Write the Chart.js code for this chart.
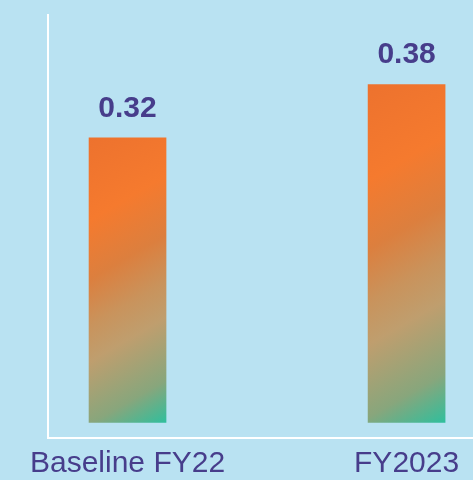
<!DOCTYPE html>
<html>
<head>
<meta charset="utf-8">
<script src="https://cdn.jsdelivr.net/npm/chart.js@4"></script>
<style>
  html, body { margin: 0; padding: 0; background: #b9e2f2; overflow: hidden; }
  #wrap { width: 473px; height: 480px; }
</style>
</head>
<body>
<div id="wrap"><canvas id="fyChart" width="473" height="480"></canvas></div>
<script>
// data
const categories = ['Baseline FY22', 'FY2023'];
const values = [0.32, 0.38];
const valueLabels = ['0.32', '0.38'];

document.addEventListener('DOMContentLoaded', function() {

  const textColor = '#473d8b';
  const barWidth = 77;

  // orange -> tan -> green, per bar, tilted 30deg
  const gradStops = [
    [0, '#ed722e'],
    [0.25, '#f57a2e'],
    [0.43, '#dc7f3e'],
    [0.57, '#c9935c'],
    [0.68, '#bf9e6e'],
    [0.87, '#88a67c'],
    [1, '#2fbf9d']
  ];

  function barGradient(context) {
    const chart = context.chart;
    const { ctx, chartArea, scales } = chart;
    if (!chartArea || context.dataIndex === undefined) return '#f57a2e';
    const i = context.dataIndex;
    const cx = scales.x.getPixelForValue(i);
    const top = scales.y.getPixelForValue(values[i]);
    const bottom = scales.y.getPixelForValue(0);
    const h = bottom - top;
    const a = 30 * Math.PI / 180;
    const dx = Math.sin(a), dy = Math.cos(a);
    const half = (barWidth * dx + h * dy) / 2;
    const cy = (top + bottom) / 2;
    const g = ctx.createLinearGradient(cx - dx * half, cy - dy * half, cx + dx * half, cy + dy * half);
    gradStops.forEach(s => g.addColorStop(s[0], s[1]));
    return g;
  }

  // value text above each bar
  const valueLabelPlugin = {
    id: 'valueLabels',
    afterDatasetsDraw(chart) {
      const ctx = chart.ctx;
      const meta = chart.getDatasetMeta(0);
      ctx.save();
      ctx.fillStyle = textColor;
      ctx.font = 'bold 30px "Liberation Sans", Arial, sans-serif';
      ctx.textAlign = 'center';
      ctx.textBaseline = 'alphabetic';
      meta.data.forEach((bar, i) => {
        ctx.fillText(valueLabels[i], bar.x, bar.y - 21);
      });
      ctx.restore();
    }
  };

  const ctx1 = document.getElementById('fyChart');
  new Chart(ctx1, {
    type: 'bar',
    data: {
      datasets: [{
        data: values.map((v, i) => ({ x: i, y: v })),
        backgroundColor: barGradient,
        borderWidth: 0,
        barThickness: barWidth
      }]
    },
    options: {
      responsive: false,
      animation: false,
      layout: { padding: { left: 48, top: 15, right: 0, bottom: 0 } },
      plugins: {
        legend: { display: false },
        tooltip: { enabled: false }
      },
      scales: {
        x: {
          type: 'linear',
          offset: false,
          min: -0.285,
          max: 1.238,
          afterBuildTicks: scale => { scale.ticks = categories.map((c, i) => ({ value: i })); },
          afterFit: scale => { scale.height = 42; },
          ticks: {
            color: textColor,
            font: { family: '"Liberation Sans", Arial, sans-serif', size: 30 },
            padding: 8,
            maxRotation: 0,
            autoSkip: false,
            callback: v => categories[v]
          },
          grid: { color: 'rgba(0,0,0,0)', drawTicks: false, offset: false },
          border: { display: true, color: '#ffffff', width: 2 }
        },
        y: {
          min: -0.0168,
          max: 0.458,
          afterFit: scale => { scale.width = 0; },
          ticks: { display: false },
          grid: { color: 'rgba(0,0,0,0)', drawTicks: false },
          border: { display: true, color: '#ffffff', width: 2 }
        }
      }
    },
    plugins: [valueLabelPlugin]
  });
});
</script>
</body>
</html>
